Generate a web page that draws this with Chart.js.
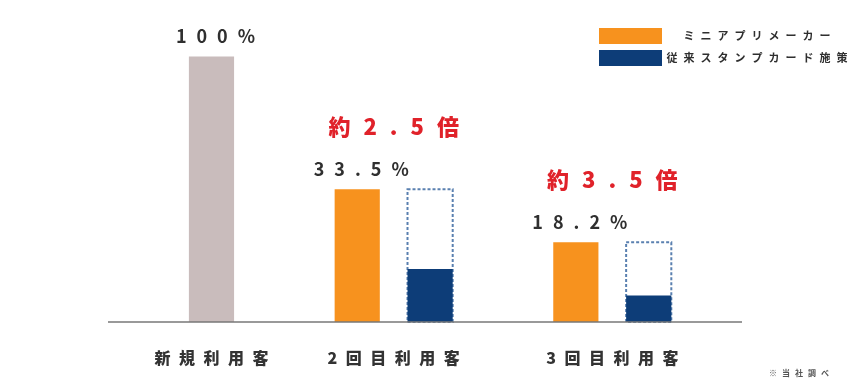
<!DOCTYPE html>
<html lang="ja">
<head>
<meta charset="utf-8">
<script src="https://cdn.jsdelivr.net/npm/chart.js@4.4.1/dist/chart.umd.min.js"></script>
<style>
	html, body { margin: 0; padding: 0; background: #fff; }
	#wrap { width: 852px; height: 392px; position: relative; }
</style>
</head>
<body>
<div id="wrap"><canvas id="chart-repeat-rate"></canvas></div>
<script>
// Categories & values (bar heights as drawn, labels as printed)
const CATEGORIES = ["新規利用客", "2回目利用客", "3回目利用客"];
const GROUP_SLOTS = [0, 2, 5];
const NEW_USER = [100];
const MINI_APP = [50, 30]; // 2回目, 3回目
const STAMP_CARD = [20, 10];
const RATE_LABELS = ["100%", "33.5%", "18.2%"];
const MULTIPLE_LABELS = ["約2.5倍", "約3.5倍"];
const LEGEND_LABELS = ["ミニアプリメーカー", "従来スタンプカード施策"];
const NOTE = "※当社調べ";

const COLORS = {
	grey: "#c9bcbc",
	orange: "#f7921e",
	navy: "#0d3d78",
	dash: "#5a80b0",
	red: "#e0222a",
	text: "#2f2f2f",
	axis: "#777777",
};
const FONT = '"Noto Sans CJK JP", "Noto Sans", sans-serif';

// Build points on the slot axis
const newUserData = NEW_USER.map((v, i) => ({ x: GROUP_SLOTS[i], y: v }));
const miniAppData = MINI_APP.map((v, i) => ({ x: GROUP_SLOTS[i + 1], y: v }));
const stampCardData = STAMP_CARD.map((v, i) => ({ x: GROUP_SLOTS[i + 1] + 1, y: v }));

// Text with letter spacing, truly centered
const spacedText = (ctx, text, x, y, size, spacing, color, weight = "bold") => {
	ctx.save();
	ctx.font = `${weight} ${size}px ${FONT}`;
	ctx.letterSpacing = spacing + "px";
	ctx.fillStyle = color;
	ctx.textAlign = "center";
	ctx.textBaseline = "middle";
	ctx.fillText(text, x + spacing / 2, y);
	ctx.restore();
};

const decorations = {
	id: "decorations",
	beforeDatasetsDraw(chart) {
		const { ctx, scales } = chart;
		const y0 = scales.y.getPixelForValue(0);
		// dashed outline on the stamp card bars at mini app height
		const meta = chart.getDatasetMeta(2);
		ctx.save();
		ctx.strokeStyle = COLORS.dash;
		ctx.lineWidth = 2;
		ctx.setLineDash([3, 2]);
		meta.data.forEach((bar, i) => {
			const top = scales.y.getPixelForValue(MINI_APP[i]);
			ctx.strokeRect(bar.x - bar.width / 2, top, bar.width, y0 - top);
		});
		ctx.restore();
	},
	afterDatasetsDraw(chart) {
		const { ctx, chartArea, scales } = chart;
		const y0 = scales.y.getPixelForValue(0);

		// baseline
		ctx.save();
		ctx.strokeStyle = COLORS.axis;
		ctx.lineWidth = 1.5;
		ctx.beginPath();
		ctx.moveTo(chartArea.left, y0);
		ctx.lineTo(chartArea.right, y0);
		ctx.stroke();
		ctx.restore();

		// rate labels over grey / orange bars
		const labelled = [chart.getDatasetMeta(0).data[0], ...chart.getDatasetMeta(1).data];
		labelled.forEach((bar, i) => {
			spacedText(ctx, RATE_LABELS[i], bar.x + 4, bar.y - 20, 18, 10, COLORS.text);
		});

		// multiples in red over groups
		chart.getDatasetMeta(1).data.forEach((bar, i) => {
			const cx = scales.x.getPixelForValue(GROUP_SLOTS[i + 1] + 0.5);
			spacedText(ctx, MULTIPLE_LABELS[i], cx, bar.y - 63, 22, 13, COLORS.red, 900);
		});

		// category labels
		CATEGORIES.forEach((cat, i) => {
			const mid = i === 0 ? GROUP_SLOTS[0] : GROUP_SLOTS[i] + 0.5;
			spacedText(ctx, cat, scales.x.getPixelForValue(mid), y0 + 36, 16, 8.5, "#333333", 900);
		});

		// legend
		const legend = [
			{ color: COLORS.orange, text: LEGEND_LABELS[0], y: 36 },
			{ color: COLORS.navy, text: LEGEND_LABELS[1], y: 58 },
		];
		legend.forEach((item) => {
			ctx.fillStyle = item.color;
			ctx.fillRect(599, item.y - 8, 63, 16);
			spacedText(ctx, item.text, 757, item.y, 11, 6, COLORS.text);
		});

		// note
		spacedText(ctx, NOTE, 799, 373, 8, 5, "#555555");
	},
};

const CHART_DATA = {
	datasets: [
		{ label: "新規利用客", data: newUserData, backgroundColor: COLORS.grey },
		{ label: LEGEND_LABELS[0], data: miniAppData, backgroundColor: COLORS.orange },
		{ label: LEGEND_LABELS[1], data: stampCardData, backgroundColor: COLORS.navy },
	],
};

const CHART_CONFIG = {
	type: "bar",
	data: CHART_DATA,
	options: {
		responsive: true,
		maintainAspectRatio: false,
		animation: false,
		grouped: false,
		categoryPercentage: 1,
		barPercentage: 0.62,
		layout: {
			padding: { left: 108, right: 110, top: 30, bottom: 70 },
		},
		scales: {
			x: {
				type: "linear",
				display: false,
				offset: false,
				min: -1.42,
				max: 7.28,
			},
			y: {
				display: false,
				min: 0,
				max: 110,
			},
		},
		plugins: {
			legend: { display: false },
			tooltip: { enabled: false },
		},
	},
	plugins: [decorations],
};

new Chart(document.getElementById("chart-repeat-rate"), CHART_CONFIG);
</script>
</body>
</html>
